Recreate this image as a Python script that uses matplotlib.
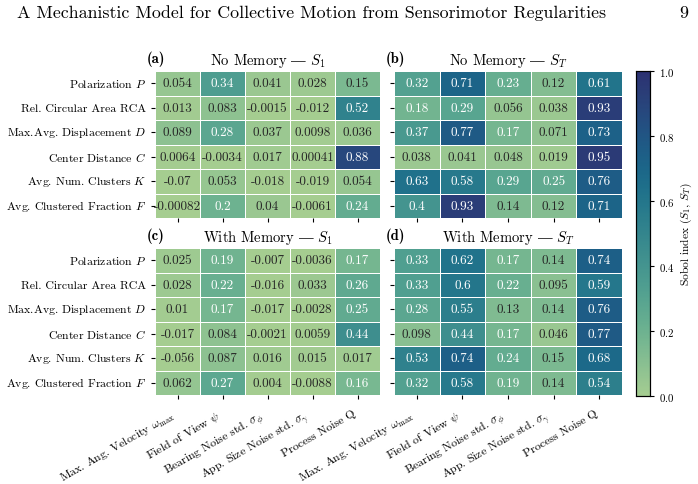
import numpy as np
import pandas as pd
import matplotlib
matplotlib.use("Agg")
import matplotlib.pyplot as plt
import seaborn as sns

plt.rcParams['font.family'] = ['cmr10', 'DejaVu Serif']
plt.rcParams['mathtext.fontset'] = 'cm'
plt.rcParams['axes.formatter.use_mathtext'] = True
plt.rcParams['axes.unicode_minus'] = False

outputs = ["Polarization $P$", "Rel. Circular Area RCA", "Max.Avg. Displacement $D$",
           "Center Distance $C$", "Avg. Num. Clusters $K$", "Avg. Clustered Fraction $F$"]
params = [r"Max. Ang. Velocity $\omega_{\max}$", r"Field of View $\psi$",
          r"Bearing Noise std. $\sigma_\phi$", r"App. Size Noise std. $\sigma_\gamma$",
          "Process Noise Q"]

no_mem_s1 = [[0.054, 0.34, 0.041, 0.028, 0.15],
             [0.013, 0.083, -0.0015, -0.012, 0.52],
             [0.089, 0.28, 0.037, 0.0098, 0.036],
             [0.0064, -0.0034, 0.017, 0.00041, 0.88],
             [-0.07, 0.053, -0.018, -0.019, 0.054],
             [-0.00082, 0.2, 0.04, -0.0061, 0.24]]
no_mem_st = [[0.32, 0.71, 0.23, 0.12, 0.61],
             [0.18, 0.29, 0.056, 0.038, 0.93],
             [0.37, 0.77, 0.17, 0.071, 0.73],
             [0.038, 0.041, 0.048, 0.019, 0.95],
             [0.63, 0.58, 0.29, 0.25, 0.76],
             [0.4, 0.93, 0.14, 0.12, 0.71]]
mem_s1 = [[0.025, 0.19, -0.007, -0.0036, 0.17],
          [0.028, 0.22, -0.016, 0.033, 0.26],
          [0.01, 0.17, -0.017, -0.0028, 0.25],
          [-0.017, 0.084, -0.0021, 0.0059, 0.44],
          [-0.056, 0.087, 0.016, 0.015, 0.017],
          [0.062, 0.27, 0.004, -0.0088, 0.16]]
mem_st = [[0.33, 0.62, 0.17, 0.14, 0.74],
          [0.33, 0.6, 0.22, 0.095, 0.59],
          [0.28, 0.55, 0.13, 0.14, 0.76],
          [0.098, 0.44, 0.17, 0.046, 0.77],
          [0.53, 0.74, 0.24, 0.15, 0.68],
          [0.32, 0.58, 0.19, 0.14, 0.54]]

panels = [("(a)", "No Memory $\u2014$ $S_1$", no_mem_s1),
          ("(b)", "No Memory $\u2014$ $S_T$", no_mem_st),
          ("(c)", "With Memory $\u2014$ $S_1$", mem_s1),
          ("(d)", "With Memory $\u2014$ $S_T$", mem_st)]

fig = plt.figure(figsize=(6.98, 4.85), dpi=100)
W, H = 698, 485
def px(l, t, r, b):
    return [l / W, 1 - b / H, (r - l) / W, (b - t) / H]

boxes = [px(155, 72, 380, 219), px(394, 72, 622, 219),
         px(155, 249, 380, 396), px(394, 249, 622, 396)]
cax = fig.add_axes(px(636, 72, 650, 397))

for i, (lab, title, vals) in enumerate(panels):
    ax = fig.add_axes(boxes[i])
    df = pd.DataFrame(vals, index=outputs, columns=params)
    sns.heatmap(df, ax=ax, cmap="crest", vmin=0, vmax=1, annot=True, fmt=".2g",
                annot_kws={"fontsize": 9.5}, linewidths=0.7, linecolor="white",
                cbar=(i == 0), cbar_ax=cax if i == 0 else None)
    ax.set_title(title, fontsize=10.5, pad=5)
    ax.text(-0.035, 1.035, lab, transform=ax.transAxes, fontsize=10.5,
            ha="left", va="bottom", family="cmb10")
    ax.tick_params(labelsize=8.5, length=3, width=0.8)
    ax.tick_params(axis="x", pad=6)
    if i % 2 == 1:
        ax.set_yticklabels([])
    else:
        ax.set_yticklabels(outputs, rotation=0)
    if i < 2:
        ax.set_xticklabels([])
    else:
        ax.set_xticklabels(params, rotation=30, ha="right")

cax.tick_params(labelsize=7.8, length=3)
cax.set_ylabel("Sobol index ($S_1$, $S_T$)", fontsize=8.3, labelpad=3)
for s in cax.spines.values():
    s.set_visible(True)
    s.set_color("black")
    s.set_linewidth(0.8)

fig.text(17 / W, 1 - 13 / H, "A Mechanistic Model for Collective Motion from Sensorimotor Regularities",
         fontsize=12.9, ha="left", va="center")
fig.text(688 / W, 1 - 13 / H, "9", fontsize=12.9, ha="right", va="center")

fig.savefig("out.png", dpi=100)
